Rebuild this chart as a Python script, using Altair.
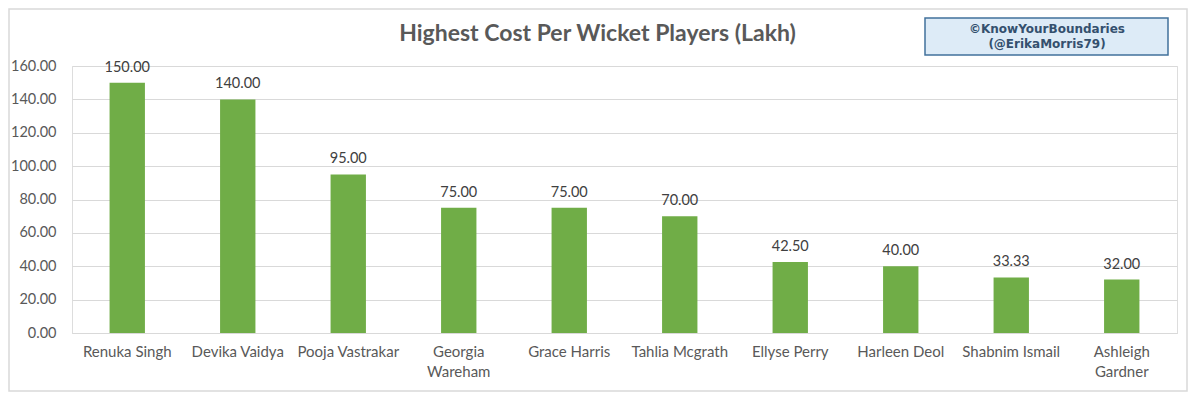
import altair as alt
import pandas as pd

players = ["Renuka Singh", "Devika Vaidya", "Pooja Vastrakar", "Georgia Wareham",
           "Grace Harris", "Tahlia Mcgrath", "Ellyse Perry", "Harleen Deol",
           "Shabnim Ismail", "Ashleigh Gardner"]
cost = [150.00, 140.00, 95.00, 75.00, 75.00, 70.00, 42.50, 40.00, 33.33, 32.00]
wrapped = ["Georgia Wareham", "Ashleigh Gardner"]
title_text = "Highest Cost Per Wicket Players (Lakh)"
credit_lines = ["©KnowYourBoundaries", "(@ErikaMorris79)"]

df = pd.DataFrame({"player": players, "cost": cost})

W, H = 1105, 267
FONT = "Lato"
GREEN = "#70AD47"

wrap_expr = "indexof(" + str(wrapped).replace('"', "'") + ", datum.label) >= 0 ? split(datum.label, ' ') : datum.label"

base = alt.Chart(df).encode(
    x=alt.X("player:N", sort=players, title=None,
            scale=alt.Scale(paddingInner=0.68, paddingOuter=0.34),
            axis=alt.Axis(labelAngle=0, labelFont=FONT, labelFontSize=15,
                          labelColor="#595959", labelPadding=11, ticks=False,
                          domainColor="#D9D9D9", labelExpr=wrap_expr,
                          labelLineHeight=20, labelBaseline="top")),
    y=alt.Y("cost:Q", title=None,
            scale=alt.Scale(domain=[0, 160]),
            axis=alt.Axis(values=list(range(0, 161, 20)), format=".2f",
                          labelFont=FONT, labelFontSize=14.5, labelColor="#595959",
                          labelPadding=16, ticks=False, domain=False,
                          gridColor="#D9D9D9")),
)

bars = base.mark_bar(color=GREEN)
labels = base.mark_text(baseline="bottom", dy=-8, font=FONT, fontSize=14.5,
                        color="#404040").encode(text=alt.Text("cost:Q", format=".2f"))

one = alt.Data(values=[{"a": 1}])
border = alt.Chart(one).mark_rect(fill=None, stroke="#D9D9D9", strokeWidth=1.5).encode(
    x=alt.value(-63), x2=alt.value(W + 10), y=alt.value(-57), y2=alt.value(H + 58))
title = alt.Chart(one).mark_text(font=FONT, fontSize=23, fontWeight="bold",
                                 color="#595959", baseline="middle").encode(
    x=alt.value(W / 2 - 27), y=alt.value(-32), text=alt.value(title_text))
box = alt.Chart(one).mark_rect(fill="#DDEBF7", stroke="#41719C", strokeWidth=1.5).encode(
    x=alt.value(853), x2=alt.value(1096), y=alt.value(-48), y2=alt.value(-11))
credit1 = alt.Chart(one).mark_text(font="DejaVu Sans", fontSize=12, fontWeight="bold",
                                   color="#34506E").encode(
    x=alt.value(975), y=alt.value(-37), text=alt.value(credit_lines[0]))
credit2 = alt.Chart(one).mark_text(font="DejaVu Sans", fontSize=12, fontWeight="bold",
                                   color="#34506E").encode(
    x=alt.value(975), y=alt.value(-22), text=alt.value(credit_lines[1]))

chart = alt.layer(border, title, bars, labels, box, credit1, credit2).properties(
    width=W, height=H,
    padding={"left": 64, "top": 58, "right": 13, "bottom": 60},
    autosize=alt.AutoSizeParams(type="none"),
).configure_view(stroke=None).configure(background="white")

chart.save("out.html", embed_options={"renderer": "svg", "actions": False})
